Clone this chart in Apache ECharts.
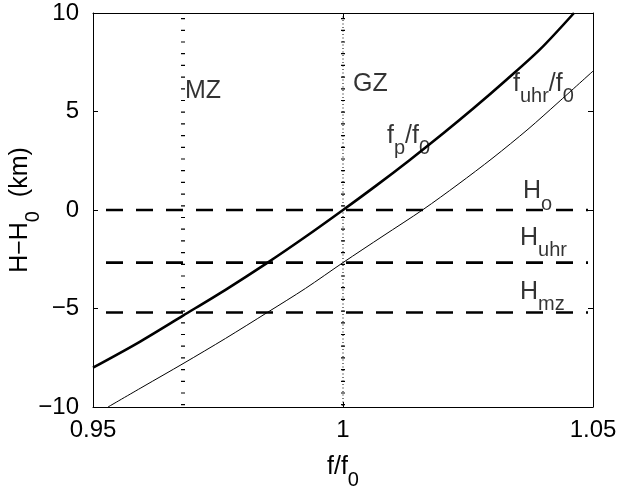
<!DOCTYPE html>
<html>
<head>
<meta charset="utf-8">
<title>f/f0</title>
<script src="https://cdn.jsdelivr.net/npm/echarts@6/dist/echarts.min.js"></script>
<style>
  html, body { margin: 0; padding: 0; background: #fff; }
  #main { width: 619px; height: 487px; }
</style>
</head>
<body>
<div id="main"></div>
<script>
// values
var fpX  = [0.9500, 0.9590, 0.9680, 0.9765, 0.9847, 0.9925, 1.0000, 1.0067, 1.0133, 1.0200, 1.0261, 1.0327, 1.0394, 1.0462];
var fpH  = [-8.00, -6.74, -5.36, -4.05, -2.71, -1.36, 0.00, 1.25, 2.53, 3.88, 5.16, 6.61, 8.15, 10.00];
var uhrX = [0.9530, 0.9600, 0.9680, 0.9765, 0.9850, 0.9925, 1.0000, 1.0080, 1.0160, 1.0230, 1.0300, 1.0370, 1.0430, 1.0500];
var uhrH = [-10.00, -8.97, -7.80, -6.52, -5.18, -3.98, -2.67, -1.32, 0.02, 1.30, 2.65, 4.10, 5.45, 7.05];
var levelNames = ['Ho', 'Huhr', 'Hmz'];
var levelH = [0, -2.67, -5.2];
var levelSpan = [0.9526, 1.049];
var zoneNames = ['MZ', 'GZ'];
var zoneF = [0.968, 1.0];
var xTicks = [0.95, 1, 1.05];
var yTicks = [-10, -5, 0, 5, 10];

var FONT = 'Liberation Sans';
var rich = {
    m: { fontSize: 25, fontFamily: FONT, color: '#000' },
    s: { fontSize: 20, fontFamily: FONT, color: '#000', padding: [26, 0, 0, 0] }
};

// text labels, at data coords (left edge, middle of caps)
var notes = [
    { value: [0.9684, 6.04], text: '{m|MZ}' },
    { value: [1.0020, 6.40], text: '{m|GZ}' },
    { value: [1.0088, 3.76], text: '{m|f}{s|p}{m|/f}{s|0}' },
    { value: [1.0340, 6.40], text: '{m|f}{s|uhr}{m|/f}{s|0}' },
    { value: [1.0360, 0.96], text: '{m|H}{s|o}' },
    { value: [1.0354, -1.42], text: '{m|H}{s|uhr}' },
    { value: [1.0354, -4.16], text: '{m|H}{s|mz}' }
];

function zip(a, b) {
    var out = [];
    for (var i = 0; i < a.length; i++) out.push([a[i], b[i]]);
    return out;
}

var series = [];

levelH.forEach(function (h, i) {
    series.push({
        name: levelNames[i], type: 'line', showSymbol: false, silent: true,
        data: [[levelSpan[0], h], [levelSpan[1], h]],
        lineStyle: { color: '#000', width: 2.6, type: [17, 13] }
    });
});

zoneF.forEach(function (f, i) {
    // short horizontal bars, like the matlab dotted line
    series.push({
        name: zoneNames[i], type: 'line', showSymbol: false, silent: true,
        data: [[f, 10], [f, -10]],
        lineStyle: { color: '#000', width: 4, type: [1.2, 10.5], cap: 'butt', dashOffset: -5 }
    });
    if (zoneNames[i] === 'GZ') {
        series.push({
            type: 'line', showSymbol: false, silent: true,
            data: [[f, 10], [f, -10]],
            lineStyle: { color: '#000', width: 1, type: [1, 2.5] }
        });
    }
});

series.push({
    name: 'fp/f0', type: 'line', smooth: 0.3, showSymbol: false,
    data: zip(fpX, fpH),
    lineStyle: { color: '#000', width: 2.6 }
});
series.push({
    name: 'fuhr/f0', type: 'line', smooth: 0.3, showSymbol: false,
    data: zip(uhrX, uhrH),
    lineStyle: { color: '#000', width: 1 }
});
series.push({
    type: 'scatter', symbolSize: 0, silent: true,
    data: notes,
    label: {
        show: true, position: 'right', distance: 0,
        formatter: function (p) { return p.data.text; },
        rich: rich
    }
});

var myChart = echarts.init(document.getElementById('main'));
var axisLine = { show: true, onZero: false, lineStyle: { color: '#000', width: 1 } };
var tick = { show: true, inside: true, length: 5, lineStyle: { color: '#000' } };
var tickFont = { color: '#000', fontSize: 24, fontFamily: FONT };

function fmt(v) {
    return String(+v.toFixed(2)).replace('-', '\u2212');
}

option = {
    animation: false,
    backgroundColor: '#fff',
    grid: { left: 93, right: 26, top: 13, bottom: 80, containLabel: false, outerBoundsMode: 'none' },
    xAxis: [{
        type: 'value', min: xTicks[0], max: xTicks[xTicks.length - 1], interval: 0.05,
        axisLine: axisLine, axisTick: tick, splitLine: { show: false },
        axisLabel: Object.assign({ margin: 11, formatter: fmt }, tickFont),
        name: '{m|f/f}{s|0}', nameLocation: 'middle', nameGap: 37, nameMoveOverlap: false,
        nameTextStyle: { rich: rich }
    }, {
        type: 'value', position: 'top', min: xTicks[0], max: xTicks[xTicks.length - 1], interval: 0.05,
        axisLine: axisLine, axisTick: tick, axisLabel: { show: false }, splitLine: { show: false }
    }],
    yAxis: [{
        type: 'value', min: yTicks[0], max: yTicks[yTicks.length - 1], interval: 5,
        axisLine: axisLine, axisTick: tick, splitLine: { show: false },
        axisLabel: Object.assign({ margin: 14, formatter: fmt }, tickFont),
        name: '{m|H\u2212H}{s|0}{m|  (km)}', nameLocation: 'middle', nameGap: 50, nameMoveOverlap: false,
        nameTextStyle: { rich: rich }
    }, {
        type: 'value', position: 'right', min: yTicks[0], max: yTicks[yTicks.length - 1], interval: 5,
        axisLine: axisLine, axisTick: tick, axisLabel: { show: false }, splitLine: { show: false }
    }],
    series: series
};

myChart.setOption(option);
</script>
</body>
</html>
